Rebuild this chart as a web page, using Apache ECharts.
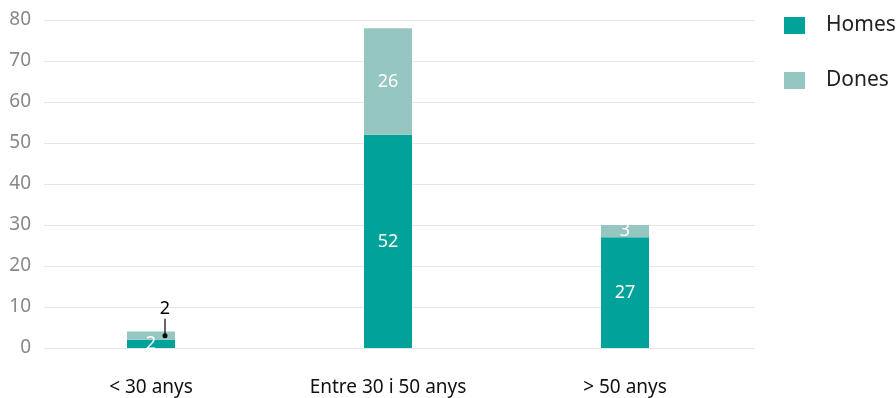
<!DOCTYPE html>
<html>
<head>
<meta charset="utf-8">
<script src="https://cdn.jsdelivr.net/npm/echarts@6/dist/echarts.min.js"></script>
<style>
  html, body { margin: 0; padding: 0; background: #fff; }
  #chart { width: 896px; height: 398px; }
</style>
</head>
<body>
<div id="chart"></div>
<script>
const categories = ['< 30 anys', 'Entre 30 i 50 anys', '> 50 anys'];
const homes = [2, 52, 27];
const dones = [2, 26, 3];
const yTicks = [0, 10, 20, 30, 40, 50, 60, 70, 80];

const FONT = 'Noto Sans';
const cHomes = '#00a29a';
const cDones = '#96c6c2';

var chart = echarts.init(document.getElementById('chart'));

// small values get their label outside the bar with a pointer
const calloutData = dones.map((v, i) => [i, homes[i] + v / 2, v]).filter(d => d[2] < 3);

var option = {
    animation: false,
    textStyle: { fontFamily: FONT },
    grid: [
        { left: 44, right: 141, top: 20, bottom: 50 },   // gridlines
        { left: 32.5, right: 152.5, top: 20, bottom: 50 } // bars
    ],
    legend: {
        orient: 'vertical',
        left: 784,
        top: 15,
        padding: 0,
        itemWidth: 21,
        itemHeight: 17,
        itemGap: 34,
        icon: 'rect',
        textStyle: { fontSize: 21, color: '#222', padding: [0, 0, 0, 16], fontFamily: FONT },
        data: ['Homes', 'Dones']
    },
    xAxis: [
        { type: 'category', gridIndex: 0, data: categories, show: false },
        {
            type: 'category',
            gridIndex: 1,
            data: categories,
            axisLine: { show: false },
            axisTick: { show: false },
            axisLabel: { fontSize: 19, color: '#111', margin: 30, fontFamily: FONT }
        }
    ],
    yAxis: [
        {
            type: 'value',
            gridIndex: 0,
            min: yTicks[0],
            max: yTicks[yTicks.length - 1],
            interval: 10,
            axisLine: { show: false },
            axisTick: { show: false },
            axisLabel: { fontSize: 19, color: '#888', margin: 13, fontFamily: FONT },
            splitLine: { lineStyle: { color: '#e6e6e6', width: 1 } }
        },
        {
            type: 'value',
            gridIndex: 1,
            min: yTicks[0],
            max: yTicks[yTicks.length - 1],
            interval: 10,
            show: false,
            splitLine: { show: false }
        }
    ],
    series: [
        {
            name: 'Homes',
            type: 'bar',
            stack: 'total',
            xAxisIndex: 1,
            yAxisIndex: 1,
            barWidth: 48,
            itemStyle: { color: cHomes },
            label: { show: true, position: 'inside', color: '#fff', fontSize: 18, fontFamily: FONT },
            data: homes
        },
        {
            name: 'Dones',
            type: 'bar',
            stack: 'total',
            xAxisIndex: 1,
            yAxisIndex: 1,
            barWidth: 48,
            itemStyle: { color: cDones },
            label: {
                show: true, position: 'inside', color: '#fff', fontSize: 18, fontFamily: FONT,
                formatter: p => (p.value < 3 ? '' : p.value)
            },
            data: dones
        },
        {
            type: 'custom',
            xAxisIndex: 1,
            yAxisIndex: 1,
            silent: true,
            z: 20,
            data: calloutData,
            renderItem: function (params, api) {
                var pt = api.coord([api.value(0), api.value(1)]);
                var x = pt[0] + 14, y = pt[1];
                return {
                    type: 'group',
                    children: [
                        { type: 'circle', shape: { cx: x, cy: y, r: 2.5 }, style: { fill: '#000' }, z2: 5 },
                        { type: 'line', shape: { x1: x, y1: y, x2: x, y2: y - 17 }, style: { stroke: '#000', lineWidth: 1.2 }, z2: 5 },
                        {
                            type: 'text',
                            z2: 5,
                            style: {
                                text: String(api.value(2)), x: x, y: y - 18,
                                align: 'center', verticalAlign: 'bottom',
                                fontSize: 18, fill: '#000', fontFamily: FONT
                            }
                        }
                    ]
                };
            }
        }
    ]
};

chart.setOption(option);
</script>
</body>
</html>
